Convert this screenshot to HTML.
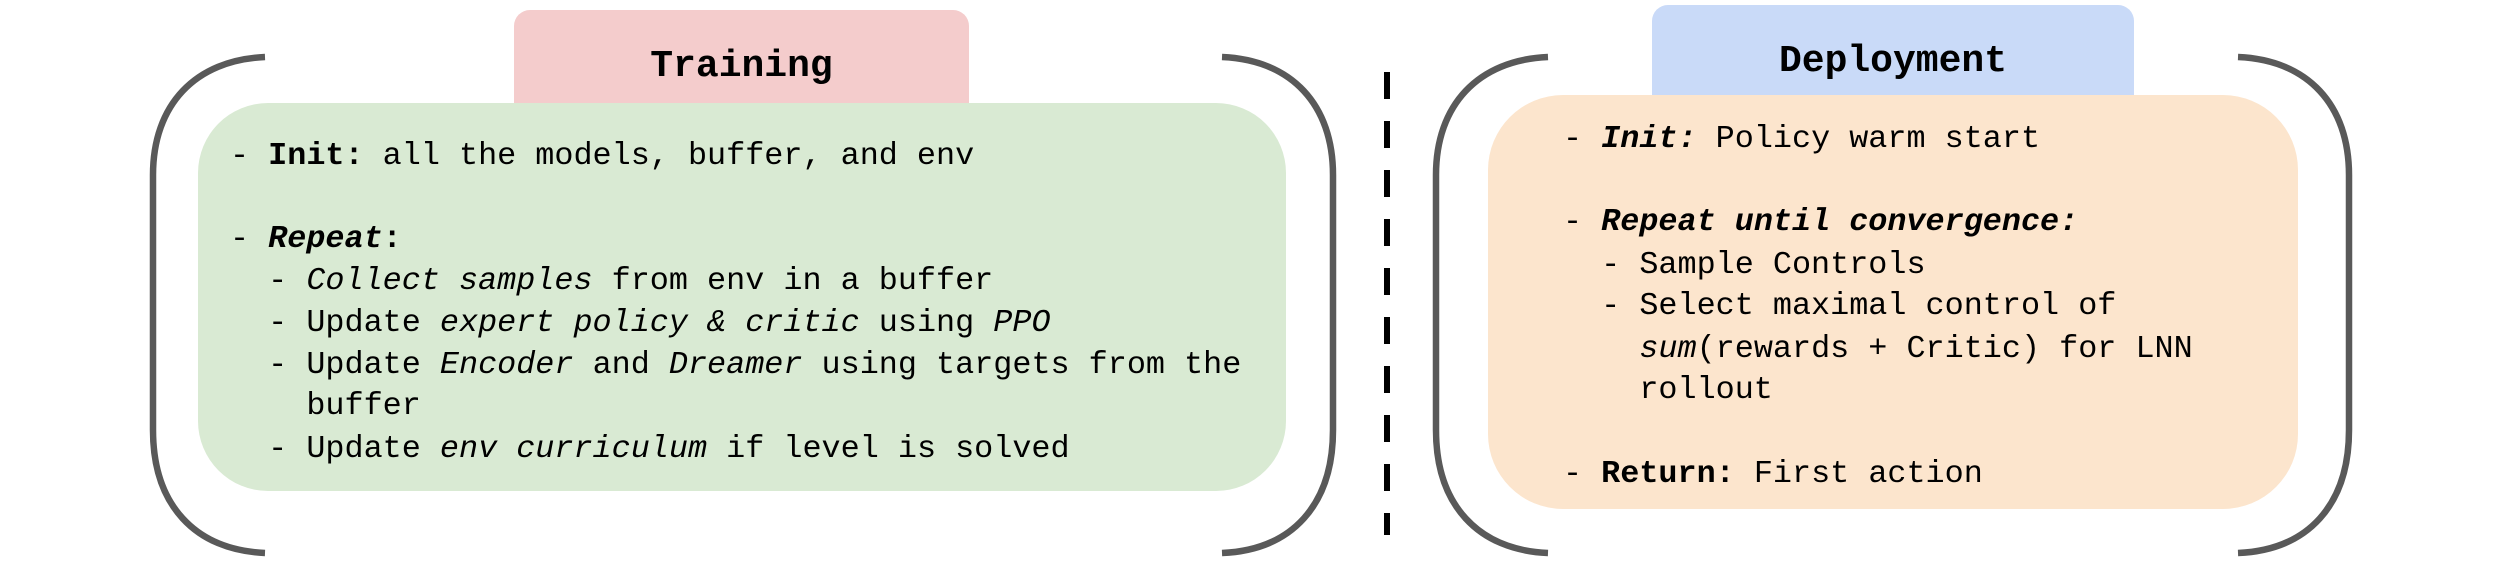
<!DOCTYPE html>
<html><head><meta charset="utf-8"><style>
html,body{margin:0;padding:0;background:#fff;}
body{width:2500px;height:571px;position:relative;overflow:hidden;font-family:"Liberation Mono","DejaVu Sans Mono",monospace;}
.box{position:absolute;}
.t{position:absolute;white-space:pre;font-size:31.8px;line-height:42px;color:#000;}
.title{position:absolute;font-size:38px;font-weight:bold;text-align:center;line-height:40px;}
b{font-weight:bold;}
</style></head><body>
<div class="box" style="left:514px;top:10px;width:455px;height:110px;background:#f4cccc;border-radius:16px;"></div>
<div class="box" style="left:198px;top:103px;width:1088px;height:388px;background:#d9ead3;border-radius:70px;"></div>
<div class="box" style="left:1652px;top:5px;width:482px;height:110px;background:#c9daf8;border-radius:16px;"></div>
<div class="box" style="left:1488px;top:95px;width:810px;height:414px;background:#fce5cd;border-radius:75px;"></div>

<svg width="2500" height="571" style="position:absolute;left:0;top:0" xmlns="http://www.w3.org/2000/svg">
<g fill="none" stroke="#595959" stroke-width="6.5">
<path d="M265,57 C195,60 153,105 153,175 L153,430 C153,505 195,550 265,553"/>
<path d="M1222,57 C1292,60 1333,105 1333,175 L1333,430 C1333,505 1292,550 1222,553"/>
<path d="M1548,57 C1478,60 1436,105 1436,175 L1436,430 C1436,505 1478,550 1548,553"/>
<path d="M2238,57 C2308,60 2349,105 2349,175 L2349,430 C2349,505 2308,550 2238,553"/>
</g>
<line x1="1387" y1="72" x2="1387" y2="535" stroke="#000" stroke-width="6" stroke-dasharray="27 22"/>
</svg>

<div class="title" style="left:514px;top:47px;width:455px;">Training</div>
<div class="title" style="left:1652px;top:42px;width:482px;">Deployment</div>

<div class="t" style="left:230px;top:135px;">- <b>Init:</b> all the models, buffer, and env</div>
<div class="t" style="left:230px;top:218px;">- <b><i>Repeat</i>:</b></div>
<div class="t" style="left:230px;top:260px;">  - <i>Collect samples</i> from env in a buffer</div>
<div class="t" style="left:230px;top:302px;">  - Update <i>expert policy &amp; critic</i> using <i>PPO</i></div>
<div class="t" style="left:230px;top:344px;">  - Update <i>Encoder</i> and <i>Dreamer</i> using targets from the</div>
<div class="t" style="left:230px;top:385px;">    buffer</div>
<div class="t" style="left:230px;top:428px;">  - Update <i>env curriculum</i> if level is solved</div>

<div class="t" style="left:1563px;top:118px;">- <b><i>Init:</i></b> Policy warm start</div>
<div class="t" style="left:1563px;top:201px;">- <b><i>Repeat until convergence:</i></b></div>
<div class="t" style="left:1563px;top:244px;">  - Sample Controls</div>
<div class="t" style="left:1563px;top:285px;">  - Select maximal control of</div>
<div class="t" style="left:1563px;top:328px;">    <i>sum</i>(rewards + Critic) for LNN</div>
<div class="t" style="left:1563px;top:369px;">    rollout</div>
<div class="t" style="left:1563px;top:453px;">- <b>Return:</b> First action</div>
</body></html>
